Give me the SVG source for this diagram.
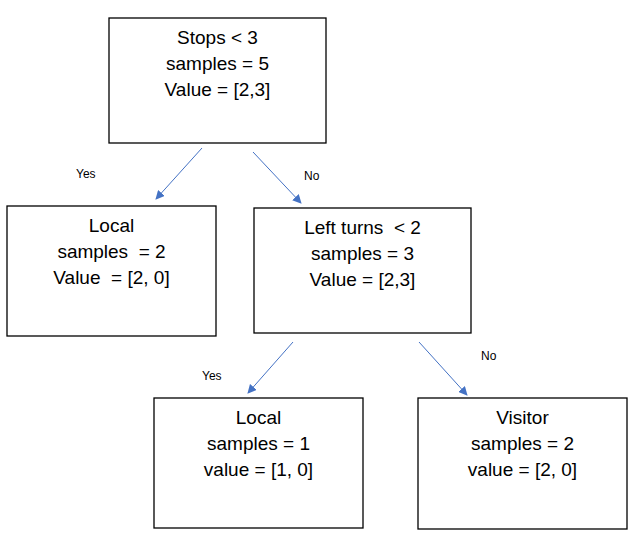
<svg xmlns="http://www.w3.org/2000/svg" width="634" height="549" viewBox="0 0 634 549">
<defs>
<marker id="ah" viewBox="0 0 10 10" refX="9" refY="5" markerWidth="9" markerHeight="9" markerUnits="userSpaceOnUse" orient="auto">
<path d="M0,0 L10,5 L0,10 z" fill="#4472C4"/>
</marker>
<style>
.box{fill:#fff;stroke:#000;stroke-width:1.3}
.t{font-family:"Liberation Sans",Arial,sans-serif;font-size:19px;fill:#000;text-anchor:middle}
.l{font-family:"Liberation Sans",Arial,sans-serif;font-size:12px;fill:#000}
.c{stroke:#4472C4;stroke-width:1;fill:none;marker-end:url(#ah)}
</style>
</defs>
<rect width="634" height="549" fill="#fff"/>
<g id="n_root">
<rect class="box" x="109" y="18" width="217" height="125"/>
<text class="t" x="217.5" y="44">Stops &lt; 3</text>
<text class="t" x="217.5" y="70">samples = 5</text>
<text class="t" x="217.5" y="96">Value = [2,3]</text>
</g>
<g id="n_local1">
<rect class="box" x="7" y="206" width="209" height="130"/>
<text class="t" x="111.5" y="232" xml:space="preserve">Local</text>
<text class="t" x="111.5" y="258" xml:space="preserve">samples  = 2</text>
<text class="t" x="111.5" y="284" xml:space="preserve">Value  = [2, 0]</text>
</g>
<g id="n_left">
<rect class="box" x="254" y="208" width="217" height="125"/>
<text class="t" x="362.5" y="234" xml:space="preserve">Left turns  &lt; 2</text>
<text class="t" x="362.5" y="260">samples = 3</text>
<text class="t" x="362.5" y="286">Value = [2,3]</text>
</g>
<g id="n_local2">
<rect class="box" x="154" y="398" width="209" height="130"/>
<text class="t" x="258.5" y="424">Local</text>
<text class="t" x="258.5" y="450">samples = 1</text>
<text class="t" x="258.5" y="476">value = [1, 0]</text>
</g>
<g id="n_visitor">
<rect class="box" x="418" y="398" width="209" height="131"/>
<text class="t" x="522.5" y="424">Visitor</text>
<text class="t" x="522.5" y="450">samples = 2</text>
<text class="t" x="522.5" y="476">value = [2, 0]</text>
</g>
<g id="connectors">
<line class="c" x1="202" y1="148" x2="156" y2="199"/>
<line class="c" x1="253" y1="152" x2="301" y2="203"/>
<line class="c" x1="293" y1="342" x2="248" y2="393"/>
<line class="c" x1="419" y1="342" x2="467" y2="395"/>
<text class="l" x="76" y="178">Yes</text>
<text class="l" x="304" y="180">No</text>
<text class="l" x="202" y="380">Yes</text>
<text class="l" x="481" y="360">No</text>
</g>
</svg>
